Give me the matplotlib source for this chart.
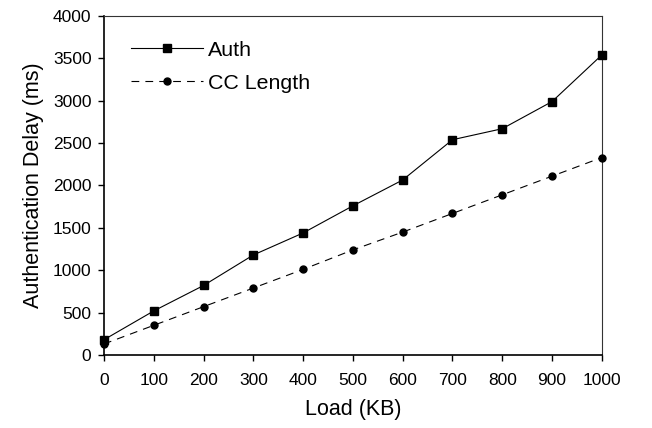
import matplotlib
matplotlib.use("Agg")
from matplotlib import pyplot as plt

# data
load_kb = [0, 100, 200, 300, 400, 500, 600, 700, 800, 900, 1000]
auth_ms = [180, 520, 820, 1180, 1440, 1760, 2065, 2540, 2670, 2990, 3540]
cc_length_ms = [130, 350, 570, 790, 1010, 1240, 1450, 1670, 1890, 2110, 2330]
x_ticks = [0, 100, 200, 300, 400, 500, 600, 700, 800, 900, 1000]
y_ticks = [0, 500, 1000, 1500, 2000, 2500, 3000, 3500, 4000]

plt.rcParams['font.family'] = ['Liberation Sans', 'DejaVu Sans']

fig = plt.figure(figsize=(6.52, 4.28), dpi=100)
ax = fig.add_axes([0.1595, 0.1706, 0.7635, 0.792])

ax.plot(load_kb, auth_ms, '-', color='black', lw=0.8, marker='s', ms=5.2,
        label='Auth', clip_on=False, zorder=3)
ax.plot(load_kb, cc_length_ms, '--', color='black', lw=0.8, marker='o', ms=5,
        dashes=(7, 5.5), label='CC Length', clip_on=False, zorder=3)

ax.set_xlim(0, 1000)
ax.set_ylim(0, 4000)
ax.set_xticks(x_ticks)
ax.set_yticks(y_ticks)
ax.tick_params(axis='x', direction='out', length=4, width=1, labelsize=12.5, pad=9)
ax.tick_params(axis='y', direction='out', length=4, width=1, labelsize=12.5, pad=5)
ax.tick_params(top=False, right=False)

for side in ['left', 'bottom']:
    ax.spines[side].set_linewidth(1.2)
for side in ['top', 'right']:
    ax.spines[side].set_linewidth(0.8)
    ax.spines[side].set_color('#333333')

ax.set_xlabel('Load (KB)', fontsize=15.5, labelpad=8)
ax.set_ylabel('Authentication Delay (ms)', fontsize=15.5, labelpad=6)

ax.legend(loc='upper left', bbox_to_anchor=(0.054, 0.927), frameon=False,
          fontsize=15.4, handlelength=3.36, handletextpad=0.23, labelspacing=0.65,
          borderpad=0, borderaxespad=0)

fig.savefig("out.png", dpi=100)
